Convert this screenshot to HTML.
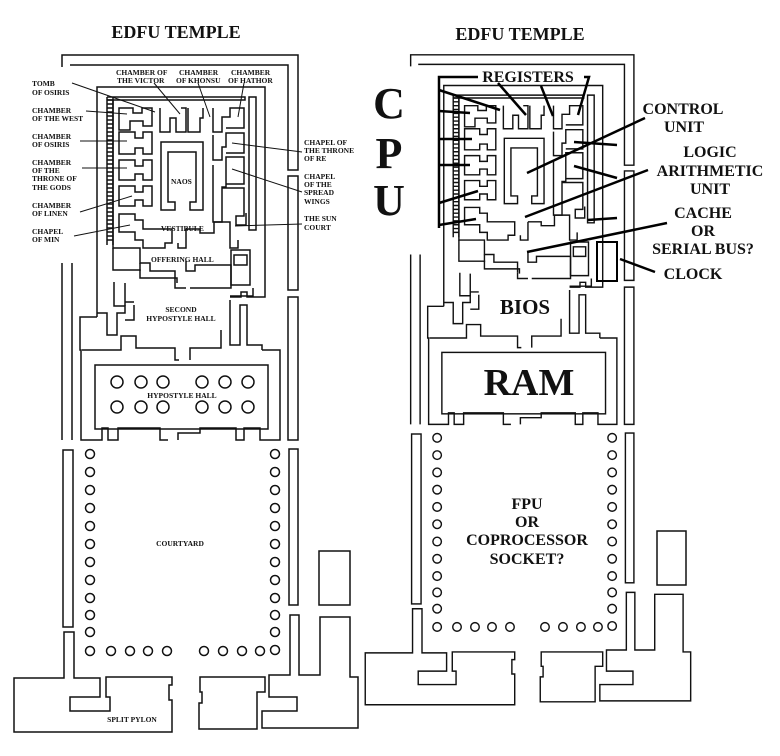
<!DOCTYPE html>
<html><head><meta charset="utf-8"><style>
html,body{margin:0;padding:0;background:#fff;}
svg{display:block;}
.t{font-family:"Liberation Serif",serif;font-weight:bold;fill:#111;}
</style></head><body>
<svg width="780" height="756" viewBox="0 0 780 756" xmlns="http://www.w3.org/2000/svg">
<defs>
<g id="plan" fill="none" stroke="#111" stroke-width="1.5">
  <path d="M62,67 V55 H298 V170 H288 V65 H70"/>
  <path d="M288,176 H298 V290 H288 Z"/>
  <path d="M288,297 H298 V440 H288 Z"/>
  <path d="M62,263 V440 M72,263 V440"/>
  <path d="M97,317 V87 H265 V297 H247 V292 H241 V297 H230"/>
  <path d="M107,97 H245 V100 H107"/>
  <path d="M249,97 H256 V230 H249 Z"/>
  <path d="M107,97 V245 M113,97 V245"/>
  <path d="M107,100 H113 M107,104 H113 M107,108 H113 M107,112 H113 M107,116 H113 M107,120 H113 M107,124 H113 M107,128 H113 M107,132 H113 M107,136 H113 M107,140 H113 M107,144 H113 M107,148 H113 M107,152 H113 M107,156 H113 M107,160 H113 M107,164 H113 M107,168 H113 M107,172 H113 M107,176 H113 M107,180 H113 M107,184 H113 M107,188 H113 M107,192 H113 M107,196 H113 M107,200 H113 M107,204 H113 M107,208 H113 M107,212 H113 M107,216 H113 M107,220 H113 M107,224 H113 M107,228 H113 M107,232 H113 M107,236 H113 M107,240 H113"/>
  <path d="M113,100 V248 H140 V263 H150 V271 H175 V282"/>
  <path d="M119,108 H133 V113 H142 V108 H152 V126 H143 V121 H130 V130 H119 Z"/>
  <path d="M119,132 H135 V138 H143 V132 H152 V154 H143 V148 H135 V154 H119 Z"/>
  <path d="M119,160 H135 V166 H143 V160 H152 V180 H143 V174 H135 V180 H119 Z"/>
  <path d="M119,186 H135 V192 H143 V186 H152 V206 H143 V200 H135 V206 H119 Z"/>
  <path d="M119,214 H135 V220 H143 V229 H172 V243 H165 V248 H143 V240 H135 V232 H119 Z"/>
  <path d="M160,108 V132 H170 V118 H176 V132 H186 V108 H181"/>
  <path d="M188,108 V132 H200 V118 H203 V108"/>
  <path d="M213,108 V132 H222 V117 H230 V108 H244 V128 H226"/>
  <path d="M213,135 V160 H222 V147 H226 V133 H244 V153 H226"/>
  <path d="M213,165 V222 H222 V187 H226 V157 H244 V184 H226"/>
  <path d="M222,188 H244 V216 H236 V225 H246 V213"/>
  <path d="M186,229 H200 V233 H214 V222 H230 V248 H238 V240"/>
  <path d="M186,229 V248 H178 V243"/>
  <path d="M161,142 V210 H175 V202 H168 V152 H196 V202 H190 V210 H203 V142 Z"/>
  <path d="M140,263 V271 M175,282 V288 H186 M190,288 H231 V265 H195 V271 H186 V261"/>
  <path d="M231,250 H250 V285 H231 Z M234,255 H247 V265 H234 Z"/>
  <path d="M230,296 H253 V288"/>
  <path d="M113,248 V270 H140 V278 H177 V283"/>
  <path d="M114,282 V306 H125 V313 H117 V335 H107 V313 H97"/>
  <path d="M125,283 V306 M134,302 H125 M134,305 V320 H125"/>
  <path d="M230,300 V345 H240 V305 H247 V345 H262 V350"/>
  <path d="M97,317 H80 V350 H81 V440 H102 V428 H108 V440 H118 V428 H160 V440 H168"/>
  <path d="M178,440 V433 H200 V428 H236 V440 H244 V428 H260 V440 H280 V350 H262"/>
  <path d="M82,350 H121 V336 H136 V348 H175 V360 H179 M190,360 V348 H221 V330"/>
  <rect x="95" y="365" width="173" height="64"/>
  <rect x="63" y="450" width="10" height="177"/>
  <rect x="289" y="449" width="9" height="156"/>
  <g>
    <circle cx="90" cy="454" r="4.5"/><circle cx="90" cy="472" r="4.5"/><circle cx="90" cy="490" r="4.5"/><circle cx="90" cy="508" r="4.5"/><circle cx="90" cy="526" r="4.5"/><circle cx="90" cy="544" r="4.5"/><circle cx="90" cy="562" r="4.5"/><circle cx="90" cy="580" r="4.5"/><circle cx="90" cy="598" r="4.5"/><circle cx="90" cy="615" r="4.5"/><circle cx="90" cy="632" r="4.5"/><circle cx="90" cy="651" r="4.5"/>
    <circle cx="275" cy="454" r="4.5"/><circle cx="275" cy="472" r="4.5"/><circle cx="275" cy="490" r="4.5"/><circle cx="275" cy="508" r="4.5"/><circle cx="275" cy="526" r="4.5"/><circle cx="275" cy="544" r="4.5"/><circle cx="275" cy="562" r="4.5"/><circle cx="275" cy="580" r="4.5"/><circle cx="275" cy="598" r="4.5"/><circle cx="275" cy="615" r="4.5"/><circle cx="275" cy="632" r="4.5"/><circle cx="275" cy="650" r="4.5"/>
    <circle cx="111" cy="651" r="4.5"/><circle cx="130" cy="651" r="4.5"/><circle cx="148" cy="651" r="4.5"/><circle cx="167" cy="651" r="4.5"/>
    <circle cx="204" cy="651" r="4.5"/><circle cx="223" cy="651" r="4.5"/><circle cx="242" cy="651" r="4.5"/><circle cx="260" cy="651" r="4.5"/>
  </g>
  <path d="M64,632 V678 H14 V732 H172 V700 H169 V685 H172 V677 H106 V697 H110 V711 H70 V697 H100 V678 H74 V632 Z"/>
  <path d="M200,677 H265 V692 H257 V729 H199 V703 H202 V692 H200 Z"/>
  <path d="M290,615 H299 V675 H320 V617 H350 V677 H358 V728 H262 V711 H297 V697 H269 V675 H290 Z"/>
</g>
</defs>

<!-- LEFT PLAN -->
<use href="#plan"/>
<g fill="none" stroke="#111" stroke-width="1.5">
  <circle cx="117" cy="382" r="6"/><circle cx="141" cy="382" r="6"/><circle cx="163" cy="382" r="6"/>
  <circle cx="202" cy="382" r="6"/><circle cx="225" cy="382" r="6"/><circle cx="248" cy="382" r="6"/>
  <circle cx="117" cy="407" r="6"/><circle cx="141" cy="407" r="6"/><circle cx="163" cy="407" r="6"/>
  <circle cx="202" cy="407" r="6"/><circle cx="225" cy="407" r="6"/><circle cx="248" cy="407" r="6"/>
</g>
<rect x="319" y="551" width="31" height="54" fill="none" stroke="#111" stroke-width="1.5"/>

<text class="t" x="176" y="38" font-size="18" text-anchor="middle">EDFU TEMPLE</text>
<g class="t" font-size="7.5">
  <text x="32" y="86">TOMB</text><text x="32" y="95">OF OSIRIS</text>
  <text x="32" y="113">CHAMBER</text><text x="32" y="121">OF THE WEST</text>
  <text x="32" y="139">CHAMBER</text><text x="32" y="147">OF OSIRIS</text>
  <text x="32" y="165">CHAMBER</text><text x="32" y="173">OF THE</text><text x="32" y="181">THRONE OF</text><text x="32" y="190">THE GODS</text>
  <text x="32" y="208">CHAMBER</text><text x="32" y="216">OF LINEN</text>
  <text x="32" y="234">CHAPEL</text><text x="32" y="242">OF MIN</text>
  <text x="116" y="75">CHAMBER OF</text><text x="117" y="83">THE VICTOR</text>
  <text x="179" y="75">CHAMBER</text><text x="176" y="83">OF KHONSU</text>
  <text x="231" y="75">CHAMBER</text><text x="228" y="83">OF HATHOR</text>
  <text x="304" y="145">CHAPEL OF</text><text x="304" y="153">THE THRONE</text><text x="304" y="161">OF RE</text>
  <text x="304" y="179">CHAPEL</text><text x="304" y="187">OF THE</text><text x="304" y="195">SPREAD</text><text x="304" y="204">WINGS</text>
  <text x="304" y="221">THE SUN</text><text x="304" y="230">COURT</text>
  <text x="171" y="184">NAOS</text>
  <text x="161" y="231">VESTIBULE</text>
  <text x="151" y="262">OFFERING HALL</text>
  <text x="181" y="312" text-anchor="middle">SECOND</text><text x="181" y="321" text-anchor="middle">HYPOSTYLE HALL</text>
  <text x="182" y="398" text-anchor="middle">HYPOSTYLE HALL</text>
  <text x="180" y="546" text-anchor="middle">COURTYARD</text>
  <text x="132" y="722" text-anchor="middle">SPLIT PYLON</text>
</g>
<g stroke="#111" stroke-width="1" fill="none">
  <path d="M72,83 L155,112"/><path d="M86,111 L127,114"/><path d="M80,141 L127,141"/><path d="M82,168 L127,168"/>
  <path d="M80,212 L132,196"/><path d="M74,236 L130,225"/>
  <path d="M154,83 L180,114"/><path d="M198,83 L210,117"/><path d="M244,83 L238,117"/>
  <path d="M302,152 L232,143"/><path d="M302,192 L232,169"/><path d="M302,224 L235,226"/>
</g>

<!-- RIGHT PLAN -->
<g transform="translate(352,2) scale(0.946,0.96)"><use href="#plan"/></g>
<rect x="657" y="531" width="29" height="54" fill="none" stroke="#111" stroke-width="1.5"/>

<text class="t" x="520" y="40" font-size="18" text-anchor="middle">EDFU TEMPLE</text>
<g class="t" font-size="44">
  <text x="389" y="118" text-anchor="middle">C</text>
  <text x="389" y="168" text-anchor="middle">P</text>
  <text x="389" y="215" text-anchor="middle">U</text>
</g>
<g class="t" font-size="16">
  <text x="528" y="82" text-anchor="middle">REGISTERS</text>
  <text x="683" y="114" text-anchor="middle">CONTROL</text><text x="684" y="132" text-anchor="middle">UNIT</text>
  <text x="710" y="157" text-anchor="middle">LOGIC</text><text x="710" y="176" text-anchor="middle">ARITHMETIC</text><text x="710" y="194" text-anchor="middle">UNIT</text>
  <text x="703" y="218" text-anchor="middle">CACHE</text><text x="703" y="236" text-anchor="middle">OR</text><text x="703" y="254" text-anchor="middle">SERIAL BUS?</text>
  <text x="693" y="279" text-anchor="middle">CLOCK</text>
  <text x="525" y="314" font-size="21" text-anchor="middle">BIOS</text>
  <text x="529" y="395" font-size="38" text-anchor="middle">RAM</text>
  <text x="527" y="509" text-anchor="middle">FPU</text><text x="527" y="527" text-anchor="middle">OR</text>
  <text x="527" y="545" text-anchor="middle">COPROCESSOR</text><text x="527" y="564" text-anchor="middle">SOCKET?</text>
</g>
<g stroke="#000" stroke-width="2.5" fill="none">
  <path d="M478,77 H439 V228"/>
  <path d="M439,90 L500,110"/><path d="M498,83 L526,115"/><path d="M541,86 L553,116"/><path d="M584,77 H589 L578,115"/>
  <path d="M439,111 L470,113"/><path d="M439,139 L472,139"/><path d="M439,165 L470,165"/><path d="M439,203 L478,191"/><path d="M439,225 L476,219"/>
  <path d="M645,118 L527,173"/>
  <path d="M574,142 L617,145"/><path d="M574,166 L617,178"/><path d="M588,220 L617,218"/>
  <path d="M648,170 L525,217"/>
  <path d="M667,223 L527,252"/>
  <path d="M620,259 L655,272"/>
  <rect x="597" y="242" width="20" height="39" stroke-width="2"/>
</g>
</svg>
</body></html>
